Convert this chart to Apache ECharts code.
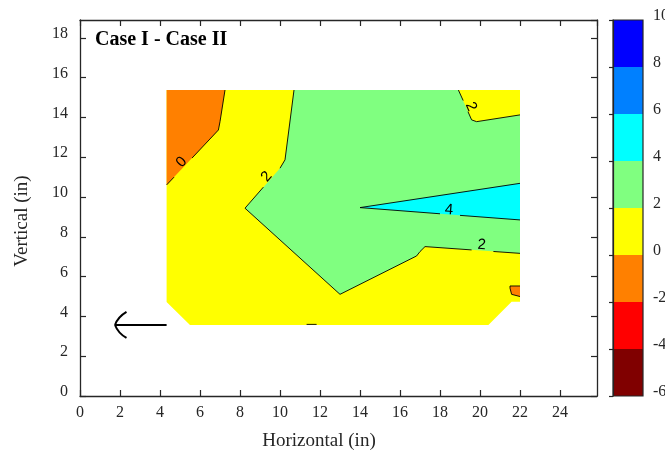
<!DOCTYPE html>
<html>
<head>
<meta charset="utf-8">
<script src="https://cdn.jsdelivr.net/npm/echarts@6/dist/echarts.min.js"></script>
<style>
  html, body { margin: 0; padding: 0; background: #fff; }
  #chart { width: 665px; height: 454px; }
</style>
</head>
<body>
<div id="chart"></div>
<script>
// Contour levels and their band colours (jet, 8 bands)
const levels = [-6, -4, -2, 0, 2, 4, 6, 8, 10];
const levelColors = ['#800000', '#ff0000', '#ff8000', '#ffff00', '#80ff80', '#00ffff', '#0080ff', '#0000ff'];

// Axis ticks
const xTicks = [0, 2, 4, 6, 8, 10, 12, 14, 16, 18, 20, 22, 24];
const yTicks = [0, 2, 4, 6, 8, 10, 12, 14, 16, 18];

// Filled regions, [x, y] in inches, with the band index they belong to
const measuredArea = [[4.33, 15.38], [22, 15.38], [22, 4.74], [21.58, 4.74], [20.42, 3.57], [5.5, 3.57], [4.33, 4.73]];
const bandTopLeft = [[4.33, 15.38], [7.25, 15.38], [7.0, 13.79], [6.92, 13.37], [4.33, 10.61]];
const bandCentre = [[10.7, 15.38], [22, 15.38], [22, 7.17], [17.25, 7.51], [17.0, 7.26], [16.83, 7.04], [13.0, 5.11], [8.25, 9.44], [10.0, 11.45], [10.25, 11.87]];
const bandTopRight = [[18.92, 15.38], [22, 15.38], [22, 14.13], [19.83, 13.79], [19.58, 13.88]];
const bandWedge = [[14.0, 9.47], [22, 10.69], [22, 8.85]];
const bandRightPocket = [[21.5, 5.53], [22, 5.53], [22, 5.0], [21.58, 5.11], [21.5, 5.42]];

const regions = [
  { pts: measuredArea, band: 3 },
  { pts: bandTopLeft, band: 2 },
  { pts: bandCentre, band: 4 },
  { pts: bandTopRight, band: 3 },
  { pts: bandWedge, band: 5 },
  { pts: bandRightPocket, band: 2 }
];

// Contour lines, broken where the inline labels sit
const contourLines = [
  [[7.25, 15.38], [7.0, 13.79], [6.92, 13.37], [5.6, 11.96]],
  [[4.7, 11.0], [4.33, 10.61]],
  [[10.7, 15.38], [10.25, 11.87], [10.0, 11.45]],
  [[9.17, 10.5], [8.25, 9.44], [13.0, 5.11], [16.83, 7.04], [17.0, 7.26], [17.25, 7.51], [19.58, 7.343]],
  [[20.67, 7.265], [22, 7.17]],
  [[18.92, 15.38], [19.16, 14.85]],
  [[19.4, 14.29], [19.58, 13.88], [19.83, 13.79], [22, 14.13]],
  [[22, 10.69], [14.0, 9.47], [18.0, 9.16]],
  [[19.0, 9.08], [22, 8.85]],
  [[22, 5.53], [21.5, 5.53], [21.5, 5.42], [21.58, 5.11], [22, 5.0]],
  [[11.33, 3.6], [11.83, 3.6]]
];

// Inline contour labels: value, anchor, and the line stretch they follow
const contourLabels = [
  { text: '0', at: [5.08, 11.76], along: [[4.33, 10.61], [6.92, 13.37]] },
  { text: '2', at: [9.33, 11.03], along: [[8.25, 9.44], [10.0, 11.45]] },
  { text: '2', at: [19.55, 14.55], along: [[18.92, 15.38], [19.58, 13.88]] },
  { text: '4', at: [18.45, 9.35], along: [[14.0, 9.47], [22, 8.85]] },
  { text: '2', at: [20.08, 7.59], along: [[17.25, 7.51], [22, 7.17]] }
];

// Annotation arrow: tail then tip
const arrow = [[4.33, 3.57], [1.75, 3.57]];

const serif = '"Liberation Serif", "Times New Roman", serif';
const sans = '"Liberation Sans", Arial, sans-serif';
const ink = '#262626';

const chart = echarts.init(document.getElementById('chart'));

const frameAxis = (extra) => Object.assign({
  type: 'value',
  gridIndex: 0,
  interval: 2,
  z: 5,
  axisLine: { show: true, onZero: false, lineStyle: { color: ink, width: 1.3 } },
  axisTick: { show: true, inside: true, length: 6, lineStyle: { color: ink, width: 1.2 } },
  splitLine: { show: false }
}, extra);

const option = {
  animation: false,
  backgroundColor: '#fff',
  title: {
    text: 'Case I - Case II',
    left: 95,
    top: 30,
    padding: 0,
    textStyle: { fontFamily: serif, fontWeight: 'bold', fontSize: 20, color: '#000' }
  },
  grid: [
    { left: 80, top: 20, width: 517, height: 376, outerBoundsMode: 'none', containLabel: false },
    { left: 613, top: 20, width: 30, height: 376, outerBoundsMode: 'none', containLabel: false }
  ],
  xAxis: [
    frameAxis({ min: 0, max: 25.85, position: 'bottom',
      axisLabel: { show: true, fontFamily: serif, fontSize: 16, color: ink, margin: 9, showMaxLabel: false,
        formatter: v => (xTicks.indexOf(v) >= 0 ? String(v) : '') } }),
    frameAxis({ min: 0, max: 25.85, position: 'top', axisLabel: { show: false } }),
    { type: 'value', gridIndex: 1, min: 0, max: 1, show: false }
  ],
  yAxis: [
    frameAxis({ min: 0, max: 18.9, position: 'left',
      axisLabel: { show: true, fontFamily: serif, fontSize: 16, color: ink, margin: 12, showMaxLabel: false,
        verticalAlign: 'bottom', lineHeight: 8,
        formatter: v => (yTicks.indexOf(v) >= 0 ? String(v) : '') } }),
    frameAxis({ min: 0, max: 18.9, position: 'right', axisLabel: { show: false } }),
    {
      type: 'value', gridIndex: 1, min: levels[0], max: levels[levels.length - 1], interval: 2,
      position: 'right', z: 5,
      axisLine: { show: true, lineStyle: { color: ink, width: 1.2 } },
      axisTick: { show: true, inside: true, length: 4, lineStyle: { color: ink, width: 1.2 } },
      axisLabel: { fontFamily: serif, fontSize: 16, color: ink, margin: 10, verticalAlign: 'bottom', lineHeight: 8 },
      splitLine: { show: false }
    }
  ],
  graphic: [
    { type: 'text', x: 319, y: 441, style: { text: 'Horizontal (in)', font: '19px ' + serif, fill: ink, align: 'center', verticalAlign: 'middle' } },
    { type: 'text', x: 22, y: 221, rotation: Math.PI / 2, style: { text: 'Vertical (in)', font: '19px ' + serif, fill: ink, align: 'center', verticalAlign: 'middle' } }
  ],
  series: [
    // filled contour bands
    {
      type: 'custom', xAxisIndex: 0, yAxisIndex: 0, z: 2, silent: true,
      data: regions.map((r, i) => [r.pts[0][0], r.pts[0][1], i]),
      encode: { x: 0, y: 1 },
      renderItem: (params, api) => {
        const r = regions[api.value(2)];
        return {
          type: 'polygon',
          shape: { points: r.pts.map(p => api.coord(p)) },
          style: { fill: levelColors[r.band], stroke: null }
        };
      }
    },
    // contour lines
    ...contourLines.map(seg => ({
      type: 'line', xAxisIndex: 0, yAxisIndex: 0, z: 3, silent: true,
      data: seg, symbol: 'none', showSymbol: false,
      lineStyle: { color: '#000', width: 0.9 }
    })),
    // inline labels
    {
      type: 'custom', xAxisIndex: 0, yAxisIndex: 0, z: 4, silent: true,
      data: contourLabels.map((l, i) => [l.at[0], l.at[1], i]),
      encode: { x: 0, y: 1 },
      renderItem: (params, api) => {
        const l = contourLabels[api.value(2)];
        const p = api.coord(l.at);
        const a = api.coord(l.along[0]);
        const b = api.coord(l.along[1]);
        let ang = Math.atan2(-(b[1] - a[1]), b[0] - a[0]);
        if (ang > Math.PI / 2) ang -= Math.PI;
        if (ang < -Math.PI / 2) ang += Math.PI;
        return {
          type: 'text', x: p[0], y: p[1], rotation: ang,
          style: { text: l.text, font: '15px ' + sans, fill: '#000', align: 'center', verticalAlign: 'middle' }
        };
      }
    },
    // arrow annotation
    {
      type: 'custom', xAxisIndex: 0, yAxisIndex: 0, z: 4, silent: true,
      data: [[arrow[0][0], arrow[0][1], arrow[1][0], arrow[1][1]]],
      encode: { x: [0, 2], y: [1, 3] },
      renderItem: (params, api) => {
        const t = api.coord([api.value(0), api.value(1)]);
        const h = api.coord([api.value(2), api.value(3)]);
        const st = { stroke: '#000', lineWidth: 2, fill: null };
        return {
          type: 'group',
          children: [
            { type: 'line', shape: { x1: t[0], y1: t[1], x2: h[0], y2: h[1] }, style: st },
            { type: 'bezierCurve', shape: { x1: h[0], y1: h[1], cpx1: h[0] + 3, cpy1: h[1] - 8, x2: h[0] + 11.5, y2: h[1] - 13 }, style: st },
            { type: 'bezierCurve', shape: { x1: h[0], y1: h[1], cpx1: h[0] + 3, cpy1: h[1] + 8, x2: h[0] + 11.5, y2: h[1] + 13 }, style: st }
          ]
        };
      }
    },
    // colour bar bands
    {
      type: 'custom', xAxisIndex: 2, yAxisIndex: 2, z: 2, silent: true,
      data: levelColors.map((c, i) => [0, levels[i], levels[i + 1], i]),
      encode: { x: 0, y: [1, 2] },
      renderItem: (params, api) => {
        const lo = api.coord([0, api.value(1)]);
        const hi = api.coord([1, api.value(2)]);
        return {
          type: 'rect',
          shape: { x: lo[0], y: hi[1], width: hi[0] - lo[0], height: lo[1] - hi[1] },
          style: { fill: levelColors[api.value(3)], stroke: null }
        };
      }
    },
    // colour bar frame
    {
      type: 'custom', xAxisIndex: 2, yAxisIndex: 2, z: 6, silent: true,
      data: [[0, levels[0], levels[levels.length - 1]]],
      encode: { x: 0, y: [1, 2] },
      renderItem: (params, api) => {
        const lo = api.coord([0, api.value(1)]);
        const hi = api.coord([1, api.value(2)]);
        return {
          type: 'rect',
          shape: { x: lo[0], y: hi[1], width: hi[0] - lo[0], height: lo[1] - hi[1] },
          style: { fill: null, stroke: ink, lineWidth: 1.2 }
        };
      }
    }
  ]
};

chart.setOption(option);
</script>
</body>
</html>
